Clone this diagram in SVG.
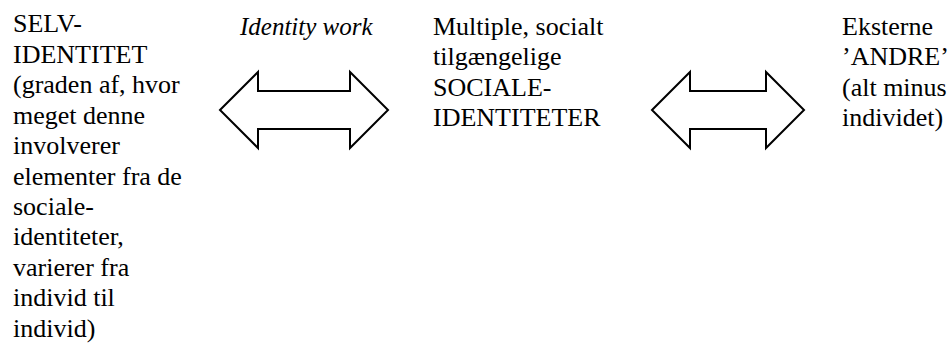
<svg xmlns="http://www.w3.org/2000/svg" width="949" height="345" viewBox="0 0 949 345" font-family="Liberation Serif, serif">
<rect width="949" height="345" fill="#fff"/>
<g id="selv">
<text x="13" y="32" style="font-family:'Liberation Serif';font-size:26px">SELV-</text>
<text x="13" y="63" style="font-family:'Liberation Serif';font-size:26px">IDENTITET</text>
<text x="13" y="93" style="font-family:'Liberation Serif';font-size:26px">(graden af, hvor</text>
<text x="13" y="124" style="font-family:'Liberation Serif';font-size:26px">meget denne</text>
<text x="13" y="154" style="font-family:'Liberation Serif';font-size:26px">involverer</text>
<text x="13" y="185" style="font-family:'Liberation Serif';font-size:26px">elementer fra de</text>
<text x="13" y="215" style="font-family:'Liberation Serif';font-size:26px">sociale-</text>
<text x="13" y="245" style="font-family:'Liberation Serif';font-size:26px">identiteter,</text>
<text x="13" y="276" style="font-family:'Liberation Serif';font-size:26px">varierer fra</text>
<text x="13" y="306" style="font-family:'Liberation Serif';font-size:26px">individ til</text>
<text x="13" y="337" style="font-family:'Liberation Serif';font-size:26px">individ)</text>
</g>
<g id="identity-work">
<text x="240" y="35" style="font-family:'Liberation Serif';font-size:25px;font-style:italic">Identity work</text>
</g>
<g id="sociale">
<text x="433" y="35" style="font-family:'Liberation Serif';font-size:26px">Multiple, socialt</text>
<text x="433" y="65" style="font-family:'Liberation Serif';font-size:26px">tilgængelige</text>
<text x="433" y="96" style="font-family:'Liberation Serif';font-size:26px">SOCIALE-</text>
<text x="433" y="126" style="font-family:'Liberation Serif';font-size:26px">IDENTITETER</text>
</g>
<g id="andre">
<text x="842" y="35" style="font-family:'Liberation Serif';font-size:26px">Eksterne</text>
<text x="842" y="65" style="font-family:'Liberation Serif';font-size:26px">’ANDRE’</text>
<text x="842" y="96" style="font-family:'Liberation Serif';font-size:26px">(alt minus</text>
<text x="842" y="126" style="font-family:'Liberation Serif';font-size:26px">individet)</text>
</g>
<g id="connectors" fill="#fff" stroke="#000" stroke-width="2">
<polygon points="220,110 258,72 258,91 350,91 350,72 388,110 350,148 350,129 258,129 258,148"/>
<polygon points="652,110 690,72 690,91 766,91 766,72 804,110 766,148 766,129 690,129 690,148"/>
</g>
</svg>
